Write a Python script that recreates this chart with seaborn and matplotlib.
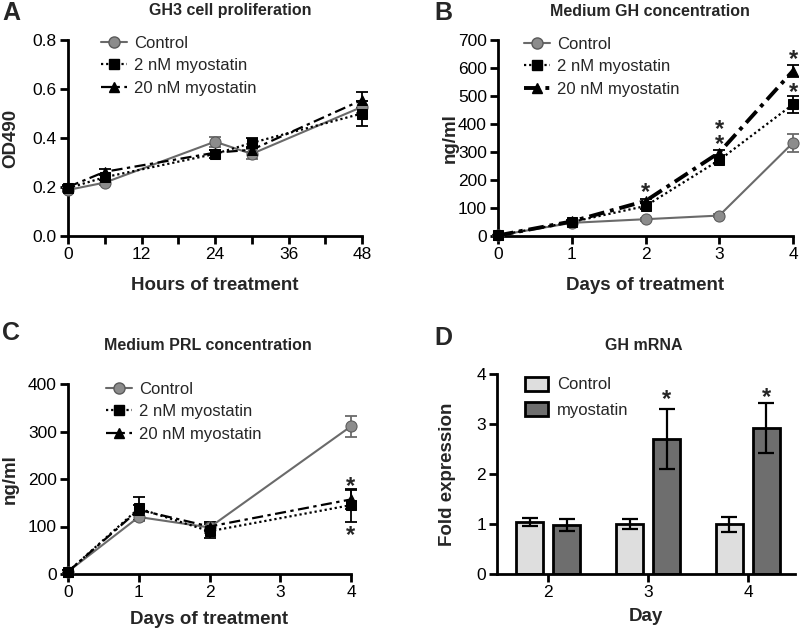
import numpy as np
import pandas as pd
import matplotlib
matplotlib.use("Agg")
import matplotlib.pyplot as plt
from matplotlib.lines import Line2D
from matplotlib.patches import Patch
import seaborn as sns

sns.set_style("ticks")
plt.rcParams['font.family'] = ['Liberation Sans', 'DejaVu Sans']
plt.rcParams['axes.linewidth'] = 2
plt.rcParams['xtick.major.width'] = 2
plt.rcParams['ytick.major.width'] = 2
plt.rcParams['xtick.minor.width'] = 2
plt.rcParams['xtick.major.size'] = 6
plt.rcParams['ytick.major.size'] = 6
plt.rcParams['xtick.minor.size'] = 6
plt.rcParams['xtick.labelsize'] = 12.5
plt.rcParams['ytick.labelsize'] = 12.5
plt.rcParams['xtick.color'] = 'black'
plt.rcParams['ytick.color'] = 'black'

# --- data ---
groups = ["Control", "2 nM myostatin", "20 nM myostatin"]

# A: proliferation (OD490)
a_hours = [0, 6, 24, 30, 48]
a_ctrl = [0.188, 0.218, 0.385, 0.335, 0.527]
a_ctrl_err = [0.01, 0.01, 0.02, 0.02, 0.025]
a_2nm = [0.195, 0.24, 0.335, 0.38, 0.50]
a_2nm_err = [0.01, 0.01, 0.015, 0.02, 0.05]
a_20nm = [0.20, 0.262, 0.34, 0.352, 0.555]
a_20nm_err = [0.01, 0.01, 0.01, 0.01, 0.032]

# B: medium GH (ng/ml)
b_days = [0, 1, 2, 3, 4]
b_ctrl = [2, 47, 60, 73, 333]
b_ctrl_err = [3, 5, 5, 5, 33]
b_2nm = [2, 50, 107, 271, 470]
b_2nm_err = [3, 5, 10, 12, 30]
b_20nm = [2, 52, 125, 298, 590]
b_20nm_err = [3, 5, 8, 10, 22]

# C: medium PRL (ng/ml)
c_days = [0, 1, 2, 4]
c_ctrl = [5, 120, 98, 311]
c_ctrl_err = [3, 8, 12, 22]
c_2nm = [5, 138, 90, 145]
c_2nm_err = [3, 25, 15, 35]
c_20nm = [5, 135, 100, 157]
c_20nm_err = [3, 10, 10, 20]

# D: GH mRNA fold expression
d_days = ["2", "3", "4"]
d_ctrl = [1.05, 1.0, 1.0]
d_ctrl_err = [0.08, 0.1, 0.15]
d_myo = [0.98, 2.7, 2.92]
d_myo_err = [0.12, 0.6, 0.5]

W, H = 800, 629
fig = plt.figure(figsize=(8, 6.29), dpi=100)


def px_axes(l, t, r, b):
    return fig.add_axes([l / W, 1 - b / H, (r - l) / W, (b - t) / H])


def style_ax(ax):
    sns.despine(ax=ax)
    for s in ["left", "bottom"]:
        ax.spines[s].set_color("black")
        ax.spines[s].set_linewidth(2)
    ax.tick_params(direction="out", which="both", pad=2)


ctrl_col = "#6a6a6a"
ctrl_face = "#8c8c8c"


def draw_lines(ax, x, series, errs, thick20=False):
    specs = [
        dict(color=ctrl_col, marker="o", markersize=8, markerfacecolor=ctrl_face,
             markeredgecolor="#5a5a5a", linestyle="-", linewidth=1.5),
        dict(color="black", marker="s", markersize=6.5, markerfacecolor="black",
             markeredgecolor="black", linestyle=(0, (1, 1.3)), linewidth=1.6),
        dict(color="black", marker="^", markersize=7, markerfacecolor="black",
             markeredgecolor="black",
             linestyle=(0, (4, 1.5, 1, 1.5)) if thick20 else (0, (5, 2, 1.5, 2)),
             linewidth=2.8 if thick20 else 1.6),
    ]
    handles = []
    for name, y, e, sp in zip(groups, series, errs, specs):
        df = pd.DataFrame({"x": x, "y": y})
        sns.lineplot(data=df, x="x", y="y", ax=ax, clip_on=False, zorder=3,
                     legend=False, **sp)
        ax.errorbar(x, y, yerr=e, fmt="none", ecolor=sp["color"], elinewidth=1.3,
                    capsize=4, capthick=1.3, clip_on=False, zorder=2)
        handles.append(Line2D([], [], label=name, **sp))
    return handles


def add_legend(ax, handles, loc_px):
    return ax.legend(handles=handles, loc="upper left", frameon=False, fontsize=12,
                     handlelength=1.55, handletextpad=0.45, labelspacing=0.45,
                     borderaxespad=0, bbox_to_anchor=loc_px, bbox_transform=fig.transFigure)


def star(ax, x, y, s="*"):
    ax.text(x, y, s, ha="center", va="center", fontsize=17, fontweight="bold",
            linespacing=0.55, clip_on=False)


def ylabel_at(ax, text, anchor_px, left_px, width_px):
    ax.set_ylabel(text, fontsize=13.5, fontweight="bold")
    ax.yaxis.set_label_coords((anchor_px - left_px) / width_px, 0.5)


# ---------- A ----------
axA = px_axes(68, 40, 362, 236)
hA = draw_lines(axA, a_hours, [a_ctrl, a_2nm, a_20nm], [a_ctrl_err, a_2nm_err, a_20nm_err])
axA.set_xlim(0, 48)
axA.set_ylim(0, 0.8)
axA.set_xticks([0, 12, 24, 36, 48])
axA.set_xticks([6, 18, 30, 42], minor=True)
axA.set_yticks([0, 0.2, 0.4, 0.6, 0.8])
axA.set_yticklabels(["0.0", "0.2", "0.4", "0.6", "0.8"])
style_ax(axA)
axA.set_xlabel("Hours of treatment", fontsize=13.5, fontweight="bold", labelpad=10.5)
ylabel_at(axA, "OD490", 19, 68, 294)
add_legend(axA, hA, (94 / W, 1 - 29 / H))

# ---------- B ----------
axB = px_axes(498, 40, 793, 236)
hB = draw_lines(axB, b_days, [b_ctrl, b_2nm, b_20nm], [b_ctrl_err, b_2nm_err, b_20nm_err],
                thick20=True)
axB.set_xlim(0, 4)
axB.set_ylim(0, 700)
axB.set_xticks([0, 1, 2, 3, 4])
axB.set_yticks(range(0, 701, 100))
style_ax(axB)
axB.set_xlabel("Days of treatment", fontsize=13.5, fontweight="bold", labelpad=10.5)
ylabel_at(axB, "ng/ml", 459, 498, 295)
add_legend(axB, hB, (517 / W, 1 - 30 / H))
star(axB, 2, 155)
star(axB, 3, 352, "*\n*")
star(axB, 4, 512)
star(axB, 4, 632)

# ---------- C ----------
axC = px_axes(68, 384, 351, 574)
hC = draw_lines(axC, c_days, [c_ctrl, c_2nm, c_20nm], [c_ctrl_err, c_2nm_err, c_20nm_err])
axC.set_xlim(0, 4)
axC.set_ylim(0, 400)
axC.set_xticks([0, 1, 2, 3, 4])
axC.set_yticks(range(0, 401, 100))
style_ax(axC)
axC.set_xlabel("Days of treatment", fontsize=13.5, fontweight="bold", labelpad=8)
ylabel_at(axC, "ng/ml", 19, 68, 283)
add_legend(axC, hC, (99 / W, 1 - 375 / H))
star(axC, 4, 184)
star(axC, 4, 82)

# ---------- D ----------
axD = px_axes(497, 374, 795, 574)
df_d = pd.DataFrame({
    "Day": d_days * 2,
    "group": ["Control"] * 3 + ["myostatin"] * 3,
    "value": d_ctrl + d_myo,
})
bar_cols = {"Control": "#dedede", "myostatin": "#6e6e6e"}
sns.barplot(data=df_d, x="Day", y="value", hue="group", palette=bar_cols,
            edgecolor="black", linewidth=2, width=0.74, gap=0.27, errorbar=None,
            ax=axD, legend=False, saturation=1)
for cont, err in zip(axD.containers, [d_ctrl_err, d_myo_err]):
    xs = [p.get_x() + p.get_width() / 2 for p in cont]
    ys = [p.get_height() for p in cont]
    axD.errorbar(xs, ys, yerr=err, fmt="none", ecolor="black", elinewidth=1.6,
                 capsize=6, capthick=1.6, zorder=3)
axD.set_xlim(-0.51, 2.47)
axD.set_ylim(0, 4)
axD.set_yticks([0, 1, 2, 3, 4])
style_ax(axD)
axD.set_xlabel("Day", fontsize=13.5, fontweight="bold", labelpad=6)
ylabel_at(axD, "Fold expression", 456, 497, 298)
leg_h = [Patch(facecolor=bar_cols[k], edgecolor="black", linewidth=2, label=k)
         for k in ["Control", "myostatin"]]
axD.legend(handles=leg_h, loc="upper left", frameon=False, fontsize=12,
           handlelength=1.4, handleheight=0.9, handletextpad=0.55, labelspacing=0.6,
           borderaxespad=0, bbox_to_anchor=(518 / W, 1 - 370 / H),
           bbox_transform=fig.transFigure)
star(axD, 1.185, 3.49)
star(axD, 2.185, 3.53)

# ---------- titles and panel letters ----------
tkw = dict(fontsize=11.5, fontweight="bold", ha="center", va="center")
fig.text(230 / W, 1 - 11 / H, "GH3 cell proliferation", **tkw)
fig.text(650 / W, 1 - 11 / H, "Medium GH concentration", **tkw)
fig.text(208 / W, 1 - 345 / H, "Medium PRL concentration", **tkw)
fig.text(644 / W, 1 - 345 / H, "GH mRNA", **tkw)
lkw = dict(fontsize=18, fontweight="bold", ha="left", va="center")
fig.text(2 / W, 1 - 13 / H, "A", **lkw)
fig.text(434 / W, 1 - 13 / H, "B", **lkw)
fig.text(2 / W, 1 - 333 / H, "C", **lkw)
fig.text(434 / W, 1 - 338 / H, "D", **lkw)

fig.savefig("out.png", dpi=100)
